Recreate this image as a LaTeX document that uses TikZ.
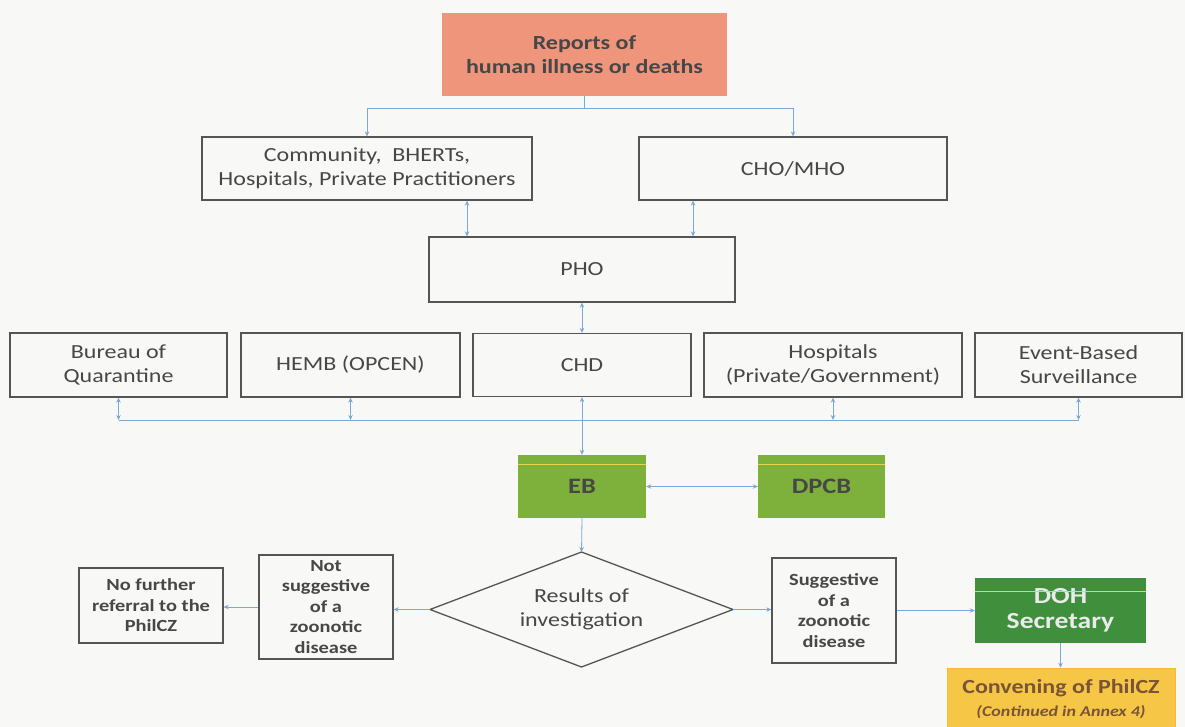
\documentclass[tikz,border=0pt]{standalone}
\usepackage{fontspec}
\setmainfont{Carlito}[FakeStretch=1.2]
\usetikzlibrary{arrows.meta}
\definecolor{bg}{HTML}{F8F8F7}
\definecolor{boxline}{HTML}{555555}
\definecolor{txt}{HTML}{474747}
\definecolor{conncol}{HTML}{7DA8D3}
\definecolor{salmon}{HTML}{EF957B}
\definecolor{lgreen}{HTML}{7DB13C}
\definecolor{dgreen}{HTML}{3F8F3C}
\definecolor{gold}{HTML}{F6C646}
\definecolor{yline}{HTML}{E9D441}
\definecolor{brownish}{HTML}{7A5535}
\begin{document}
\begin{tikzpicture}[x=1pt,y=-1pt,
  box/.style={draw=boxline, line width=1.3pt, fill=bg, text=txt, align=center,
    inner sep=0pt, font=\fontsize{20}{24}\selectfont},
  smallbox/.style={box, font=\bfseries\fontsize{17}{20.5}\selectfont},
  colbox/.style={inner sep=0pt, align=center, font=\bfseries\fontsize{22}{24}\selectfont},
  conn/.style={draw=conncol, line width=0.8pt},
  arr/.style={conn, -{Stealth[length=5pt,width=4.5pt]}},
  darr/.style={conn, {Stealth[length=5pt,width=4.5pt]}-{Stealth[length=5pt,width=4.5pt]}},
  yl/.style={draw=yline, line width=1.2pt}
]
\fill[bg] (0,0) rectangle (1185,727);
\useasboundingbox (0,0) rectangle (1185,727);
\clip (0,0) rectangle (1185,727);

% top
\node[colbox, fill=salmon, text=txt, minimum width=285pt, minimum height=83pt,
  font=\bfseries\fontsize{20}{24}\selectfont] (rep) at (584.5,54.5) {Reports of\\human illness or deaths};
\node[box, minimum width=330pt, minimum height=63pt] (com) at (367,168.5) {Community,\ \ BHERTs,\\Hospitals, Private Practitioners};
\node[box, minimum width=308pt, minimum height=63pt] (cho) at (793,168.5) {CHO/MHO};
\node[box, minimum width=306pt, minimum height=65pt] (pho) at (582,269.5) {PHO};

% row of five
\node[box, minimum width=217pt, minimum height=64pt] (bur) at (118.5,365) {Bureau of\\Quarantine};
\node[box, minimum width=219pt, minimum height=64pt] (hemb) at (350.5,365) {HEMB (OPCEN)};
\node[box, minimum width=218pt, minimum height=63pt] (chd) at (582,365) {CHD};
\node[box, minimum width=258pt, minimum height=64pt] (hosp) at (833,365) {Hospitals\\(Private/Government)};
\node[box, minimum width=207pt, minimum height=64pt] (ebs) at (1078.5,365) {Event-Based\\Surveillance};

% green boxes
\node[colbox, fill=lgreen, text=txt, minimum width=128pt, minimum height=63pt] (eb) at (582,486.5) {EB};
\node[colbox, fill=lgreen, text=txt, minimum width=127pt, minimum height=63pt] (dpcb) at (821.5,486.5) {DPCB};
\draw[yl] ([yshift=-10pt]eb.north west) -- ([yshift=-10pt]eb.north east);
\draw[yl] ([yshift=-10pt]dpcb.north west) -- ([yshift=-10pt]dpcb.north east);

% decision (diamond drawn as a polygon around its text node)
\coordinate (diaN) at (581.5,552);
\coordinate (diaS) at (581.5,667);
\coordinate (diaW) at (430,609.5);
\coordinate (diaE) at (733,609.5);
\draw[draw=boxline, line width=1.3pt, fill=bg] (diaN) -- (diaE) -- (diaS) -- (diaW) -- cycle;
\node[text=txt, align=center, inner sep=0pt, font=\fontsize{20}{24}\selectfont] (dia) at (581.5,609.5) {Results of\\investigation};

\node[smallbox, minimum width=134pt, minimum height=104pt] (nots) at (326,607) {Not\\suggestive\\of a\\zoonotic\\disease};
\node[smallbox, minimum width=144pt, minimum height=75pt] (nofur) at (151,605.5) {No further\\referral to the\\PhilCZ};
\node[smallbox, minimum width=124pt, minimum height=105pt] (sug) at (834,610.5) {Suggestive\\of a\\zoonotic\\disease};
\node[colbox, fill=dgreen, text=white!92!black, minimum width=171pt, minimum height=65pt,
  font=\bfseries\fontsize{23}{25}\selectfont] (doh) at (1060.5,610.5) {DOH\\Secretary};
\draw[yl] ([yshift=-14pt]doh.north west) -- ([yshift=-14pt]doh.north east);
\node[colbox, fill=gold, draw=gold!80!orange, line width=0.6pt, text=brownish, minimum width=228pt, minimum height=62pt]
  (conv) at (1061,699) {\fontsize{20}{22}\selectfont Convening of PhilCZ\\[-1pt]{\fontsize{15}{17}\selectfont\itshape (Continued in Annex 4)}};

% connectors
\coordinate (j1) at (584.5,108);
\draw[conn] (rep.south) -- (j1);
\draw[arr] (j1) -| (com.north);
\draw[arr] (j1) -| (cho.north);
\draw[darr] ([xshift=100pt]com.south) -- ([xshift=100pt]com.south |- pho.north);
\draw[darr] ([xshift=-100pt]cho.south) -- ([xshift=-100pt]cho.south |- pho.north);
\draw[darr] (pho.south) -- (chd.north);

\coordinate (bus) at (0,420);
\draw[conn] (bur.south |- bus) -- (ebs.south |- bus);
\draw[darr] (bur.south) -- (bur.south |- bus);
\draw[darr] (hemb.south) -- (hemb.south |- bus);
\draw[darr] (hosp.south) -- (hosp.south |- bus);
\draw[darr] (ebs.south) -- (ebs.south |- bus);
\draw[darr] (chd.south) -- (eb.north);

\draw[darr] (eb.east) -- (dpcb.west);
\draw[arr] (eb.south) -- (diaN);
\draw[arr] (diaW) -- (diaW -| nots.east);
\draw[arr] (nots.west) -- (nots.west -| nofur.east);
\draw[arr] (diaE) -- (diaE -| sug.west);
\draw[arr] (sug.east) -- (sug.east -| doh.west);
\draw[arr] (doh.south) -- (doh.south |- conv.north);
\end{tikzpicture}
\end{document}
